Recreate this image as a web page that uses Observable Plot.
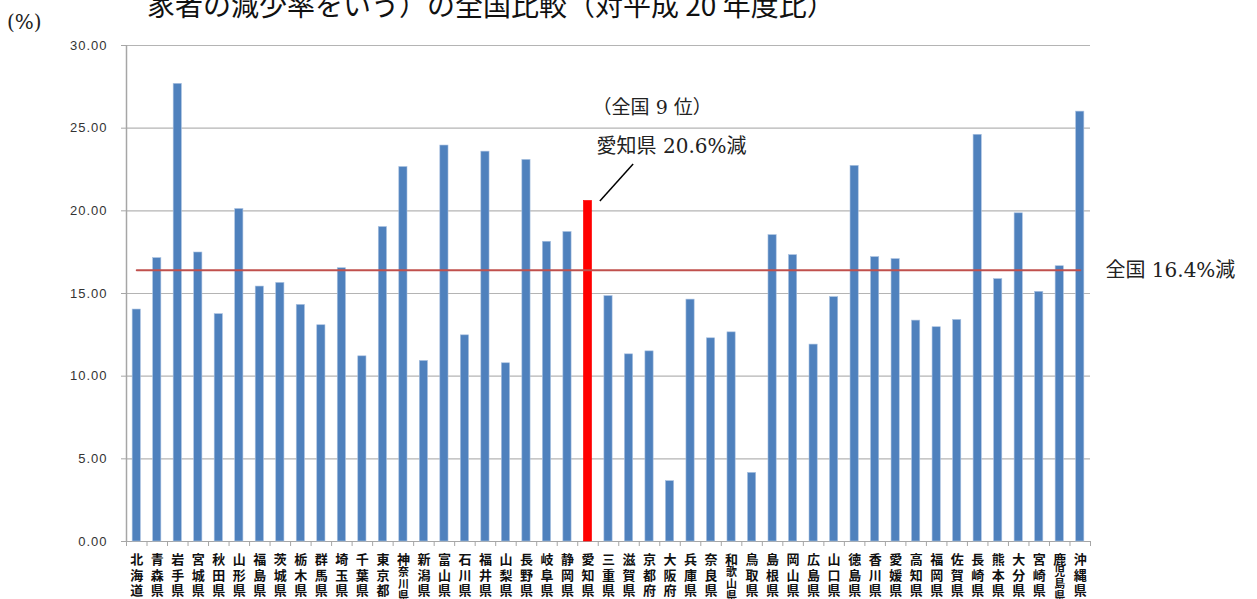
<!DOCTYPE html>
<html>
<head>
<meta charset="utf-8">
<script src="https://cdn.jsdelivr.net/npm/d3@7"></script>
<script src="https://cdn.jsdelivr.net/npm/@observablehq/plot@0.6"></script>
<style>
  html, body { margin: 0; padding: 0; background: #fff; }
  #wrap { position: relative; width: 1257px; height: 599px; overflow: hidden; }
  #title { position: absolute; left: 147px; top: -10px; font-family: "Noto Sans CJK JP", sans-serif; font-size: 28px; line-height: 1; white-space: nowrap; color: #111; }
  #unit { position: absolute; left: 7px; top: 10px; font-family: "DejaVu Serif", "Noto Sans CJK JP", serif; font-size: 20px; color: #222; }
  #chart svg { display: block; }
  g[aria-label="y-axis tick label"] text { letter-spacing: 1px; }
</style>
</head>
<body>
<div id="wrap">
  <div id="chart"></div>
  <div id="title"></div>
  <div id="unit"></div>
</div>
<script>
// ---- data ----
const prefectures = ["北海道","青森県","岩手県","宮城県","秋田県","山形県","福島県","茨城県","栃木県","群馬県","埼玉県","千葉県","東京都","神奈川県","新潟県","富山県","石川県","福井県","山梨県","長野県","岐阜県","静岡県","愛知県","三重県","滋賀県","京都府","大阪府","兵庫県","奈良県","和歌山県","鳥取県","島根県","岡山県","広島県","山口県","徳島県","香川県","愛媛県","高知県","福岡県","佐賀県","長崎県","熊本県","大分県","宮崎県","鹿児島県","沖縄県"];
const rates = [14.03,17.14,27.68,17.48,13.75,20.11,15.42,15.64,14.31,13.08,16.53,11.2,19.02,22.65,10.92,23.95,12.47,23.58,10.78,23.08,18.13,18.72,20.6,14.84,11.32,11.5,3.65,14.63,12.29,12.65,4.15,18.53,17.32,11.91,14.78,22.72,17.2,17.08,13.36,12.96,13.4,24.6,15.87,19.85,15.1,16.65,26.0];
const nationalRate = 16.4;
const highlight = "愛知県";
const yTicks = [0, 5, 10, 15, 20, 25, 30];
const titleText = "家者の減少率をいう）の全国比較（対平成 20 年度比）";
const unitText = "(%)";
const rankText = "（全国 9 位）";
const highlightText = "愛知県 20.6%減";
const nationalText = "全国 16.4%減";

// ---- build ----
const n = prefectures.length;
const data = prefectures.map((name, i) => ({i, name, rate: rates[i]}));
const hi = prefectures.indexOf(highlight);
const bounds = d3.range(n + 1).map(k => k - 0.5);
const barHalf = 0.2;
const serif = "'DejaVu Serif', 'Noto Sans CJK JP', serif";
const cjk = "'Noto Sans CJK JP', sans-serif";
const longNames = data.filter(d => d.name.length > 3);

document.getElementById("title").textContent = titleText;
document.getElementById("unit").textContent = unitText;

const chart = Plot.plot({
  width: 1257,
  height: 599,
  marginLeft: 126,
  marginRight: 167,
  marginTop: 45,
  marginBottom: 58,
  style: {fontFamily: "'Liberation Sans', sans-serif", background: "#fff", color: "#222"},
  x: {type: "linear", domain: [-0.5, n - 0.5], axis: null},
  y: {domain: [0, 30], axis: null},
  marks: [
    Plot.ruleY(yTicks.filter(v => v > 0), {stroke: "#b4b4b4", strokeWidth: 1.2}),
    Plot.ruleY([0], {stroke: "#a6a6a6", strokeWidth: 1.2}),
    Plot.ruleX([-0.5], {stroke: "#a6a6a6", strokeWidth: 1.5}),
    Plot.axisY(yTicks, {anchor: "left", tickSize: 5, tickPadding: 14, tickFormat: d3.format(".2f"), fontSize: 13, stroke: "#a6a6a6", fill: "#333"}),
    Plot.axisX(bounds, {anchor: "bottom", tickSize: 5, tickFormat: () => "", stroke: "#a6a6a6"}),
    Plot.rectY(data, {x1: d => d.i - barHalf, x2: d => d.i + barHalf, y: "rate",
      fill: d => d.name === highlight ? "#ff0000" : "#4f81bd",
      stroke: d => d.name === highlight ? "#ff0000" : "#a9c1e0", strokeWidth: 0.6}),
    Plot.lineY([{x: 0, y: nationalRate}, {x: n - 1, y: nationalRate}], {x: "x", y: "y", stroke: "#c0504d", strokeWidth: 2}),
    // x labels (vertical text)
    Plot.text(data, {x: "i", text: d => (d.name.length > 3 ? d.name.slice(0, 1) : d.name).split("").join("\n"),
      frameAnchor: "bottom", lineAnchor: "top", dy: 12, lineHeight: 1.19, fontSize: 13, fontWeight: "bold", fontFamily: cjk, fill: "#111"}),
    Plot.text(longNames, {x: "i", text: d => d.name.slice(1).split("").join("\n"),
      frameAnchor: "bottom", lineAnchor: "top", dy: 26, lineHeight: 1.1, fontSize: 11, fontWeight: "bold", fontFamily: cjk, fill: "#111"}),
    // annotations
    Plot.text([rankText], {x: hi + 3.13, y: 26.23, text: d => d, fontSize: 19, fontFamily: serif, fill: "#222", textAnchor: "middle"}),
    Plot.text([highlightText], {x: hi + 0.42, y: 23.87, text: d => d, fontSize: 20, fontFamily: serif, fill: "#222", textAnchor: "start"}),
    Plot.link([0], {x1: hi + 0.58, y1: rates[hi], x2: hi + 2.2, y2: 22.84, stroke: "#000", strokeWidth: 1.5}),
    Plot.text([nationalText], {x: n + 0.23, y: nationalRate, text: d => d, fontSize: 20, fontFamily: serif, fill: "#222", textAnchor: "start", clip: false})
  ]
});
document.getElementById("chart").appendChild(chart);
</script>
</body>
</html>
